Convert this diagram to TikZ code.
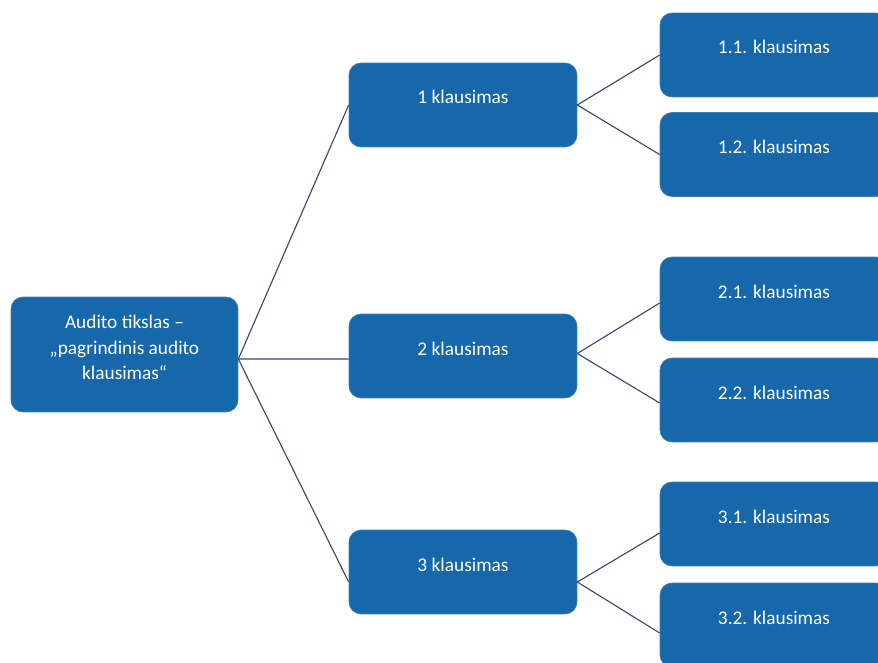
\documentclass[tikz,border=0pt]{standalone}
\usepackage{fontspec}
\setmainfont{Carlito}

\definecolor{boxblue}{RGB}{22,104,170}
\definecolor{linkblue}{RGB}{62,70,116}

\tikzset{
  qbox/.style={fill=boxblue, draw=boxblue!85!white, line width=0.4pt,
    rounded corners=0.24cm, minimum width=4.56cm, minimum height=1.68cm,
    inner sep=0pt, text=white, font=\fontsize{11}{14.7}\selectfont,
    text height=0.24cm, text depth=0.28cm},
  goalbox/.style={qbox, minimum width=4.54cm, minimum height=2.3cm,
    align=center, text height=1.3cm, text depth=0.28cm},
  link/.style={draw=linkblue, line width=0.65pt}
}

\begin{document}
\begin{tikzpicture}[x=0.02cm, y=-0.02cm]

  \useasboundingbox (0,0) rectangle (878,662);

  % Main goal on the left
  \node[goalbox] (goal) at (124.5,354.5) {Audito tikslas --\\„pagrindinis audito\\klausimas“};

  % Middle column
  \node[qbox] (q1) at (463,105) {1 klausimas};
  \node[qbox] (q2) at (463,356) {2 klausimas};
  \node[qbox] (q3) at (463,572) {3 klausimas};

  % Right column, cut at the page edge
  \node[qbox] (q11) at (774,55) {1.1. klausimas};
  \node[qbox] (q12) at (774,154.5) {1.2. klausimas};
  \node[qbox] (q21) at (774,299) {2.1. klausimas};
  \node[qbox] (q22) at (774,400) {2.2. klausimas};
  \node[qbox] (q31) at (774,524) {3.1. klausimas};
  \node[qbox] (q32) at (774,625) {3.2. klausimas};

  % Links from the goal
  \draw[link] ([yshift=-0.09cm]goal.east) -- (q1.west);
  \draw[link] ([yshift=-0.09cm]goal.east) -- ([yshift=-0.06cm]q2.west);
  \draw[link] ([yshift=-0.09cm]goal.east) -- ([yshift=-0.2cm]q3.west);

  % Links to the sub questions
  \draw[link] (q1.east) -- (q11.west);
  \draw[link] (q1.east) -- (q12.west);
  \draw[link] ([yshift=0.05cm]q2.east) -- ([yshift=-0.08cm]q21.west);
  \draw[link] ([yshift=0.05cm]q2.east) -- ([yshift=-0.06cm]q22.west);
  \draw[link] ([yshift=-0.2cm]q3.east) -- ([yshift=-0.18cm]q31.west);
  \draw[link] ([yshift=-0.2cm]q3.east) -- ([yshift=-0.16cm]q32.west);

\end{tikzpicture}
\end{document}
